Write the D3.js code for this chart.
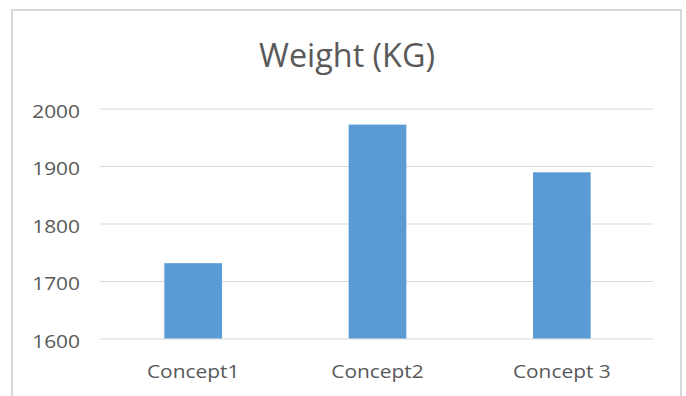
<!DOCTYPE html>
<html>
<head>
<meta charset="utf-8">
<script src="https://cdn.jsdelivr.net/npm/d3@7"></script>
<style>
  html, body { margin: 0; padding: 0; background: #fff; }
  svg { display: block; }
  text { font-family: "Open Sans", "DejaVu Sans", sans-serif; fill: #595959; }
</style>
</head>
<body>
<svg id="chart" width="686" height="396"></svg>
<script>
// Chart data
const title = "Weight (KG)";
const categories = ["Concept1", "Concept2", "Concept 3"];
const weights = [1731, 1972, 1889];
const yTicks = [1600, 1700, 1800, 1900, 2000];
const yDomain = [1600, 2000];

const svg = d3.select("#chart");
const plot = { left: 100, right: 653, top: 108.5, bottom: 338.5 };
const stretch = 1.1; // horizontal widening of axis labels

// Chart frame
svg.append("rect")
  .attr("x", 12).attr("y", 10)
  .attr("width", 669).attr("height", 400)
  .attr("fill", "#fff")
  .attr("stroke", "#d9d9d9")
  .attr("stroke-width", 2);

// Title
svg.append("text")
  .attr("x", 347).attr("y", 67)
  .attr("text-anchor", "middle")
  .attr("font-size", 33)
  .attr("textLength", 176)
  .attr("lengthAdjust", "spacingAndGlyphs")
  .text(title);

const y = d3.scaleLinear().domain(yDomain).range([plot.bottom, plot.top]);
const x = d3.scaleBand()
  .domain(categories)
  .range([plot.left + 1, plot.right + 1])
  .paddingInner(0.687)
  .paddingOuter(0.3435);

// Value axis with gridlines
const yAxis = svg.append("g")
  .attr("transform", `translate(${plot.left},0)`)
  .call(d3.axisLeft(y).tickValues(yTicks).tickFormat(d3.format("d"))
    .tickSize(-(plot.right - plot.left)).tickPadding(0));
yAxis.select(".domain").remove();
yAxis.selectAll(".tick line").attr("stroke", "#d9d9d9").attr("stroke-width", 1);
yAxis.selectAll(".tick text")
  .attr("font-size", 19)
  .attr("x", -20 / stretch)
  .attr("dy", "0.45em")
  .attr("transform", `scale(${stretch},1)`)
  .style("fill", "#595959");

// Bars
svg.append("g").selectAll("rect")
  .data(categories.map((c, i) => ({ c, v: weights[i] })))
  .join("rect")
  .attr("x", d => x(d.c))
  .attr("y", d => y(d.v))
  .attr("width", x.bandwidth())
  .attr("height", d => y(yDomain[0]) - y(d.v))
  .attr("fill", "#5b9bd5");

// Category axis
const xAxis = svg.append("g")
  .attr("transform", `translate(0,${plot.bottom})`)
  .call(d3.axisBottom(x).tickSize(0).tickPadding(0));
xAxis.select(".domain").remove();
xAxis.selectAll(".tick text")
  .attr("font-size", 19)
  .attr("y", 0)
  .attr("dy", 0)
  .attr("transform", `translate(0,39.5) scale(${stretch},1)`)
  .style("fill", "#595959");
</script>
</body>
</html>
